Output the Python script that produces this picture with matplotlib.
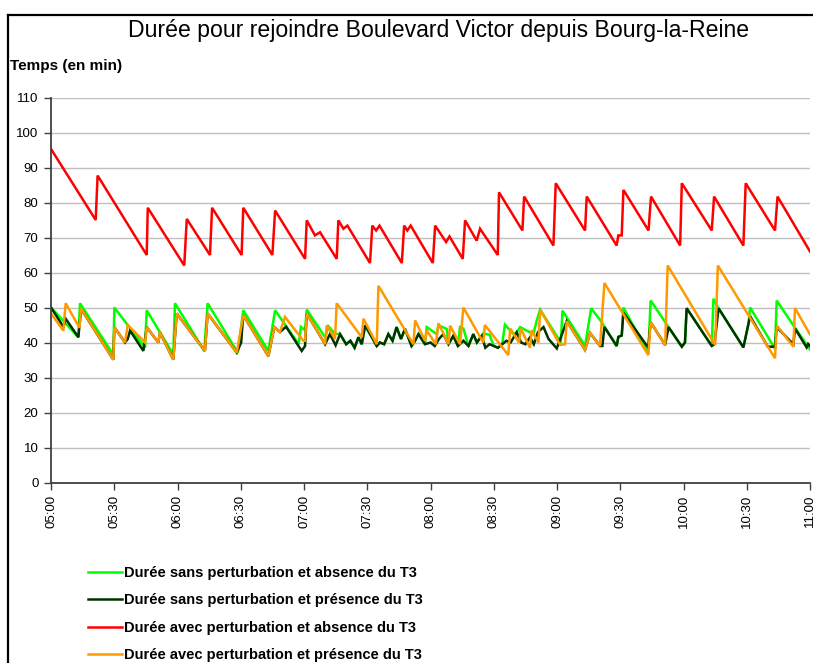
import matplotlib
matplotlib.use("Agg")
import matplotlib.pyplot as plt
from matplotlib.lines import Line2D

plt.rcParams['font.family'] = ['Liberation Sans', 'DejaVu Sans']

# Minutes after 05:00 and travel time (min) at each vertex of every series
green_t = [0, 12.97, 13.76, 29.57, 30.04, 44.6, 45.4, 58.0, 58.8, 72.7, 74.3, 88.6, 91.2, 103.1,
           106.3, 117.5, 118.5, 120.5, 121.3, 130.0, 131.6, 134.7, 137.1, 140, 142, 144, 145.8,
           147.4, 149.0, 154.5, 156, 158, 160, 162, 163.9, 166, 167.9, 171, 172.7, 174.3, 177.4,
           178.2, 183.0, 183.8, 187.7, 188.5, 190.8, 193, 194, 195.6, 198, 200.3, 202, 204.3,
           205, 208, 210, 212, 214, 215.3, 219.3, 220.9, 222.5, 228.8, 230.4, 232.0, 241.8,
           242.6, 253.3, 256.2, 261.2, 268.3, 269.1, 270.7, 271.5, 283.3, 284.4, 292.9, 299.2,
           300.7, 301.5, 313.4, 314.2, 316.6, 328.4, 330.8, 331.6, 343.4, 344.2, 352.1, 360]
green_v = [50, 41.5, 51.2, 36.5, 50, 38.5, 49.2, 36.6, 51.2, 37.6, 51.2, 37.1, 49.2, 37.6,
           49.2, 39.5, 44.5, 43.5, 49.4, 41.5, 44.6, 42.5, 42.4, 39.5, 40.5, 38.5, 41.5,
           39.5, 44.9, 39.0, 40, 39.5, 42.4, 40.5, 44.4, 41, 43.9, 39.0, 40.5, 42.4, 39.5,
           44.4, 42.4, 44.9, 43.9, 39.5, 41.9, 39, 44.4, 44, 39, 42.4, 40, 41.9,
           42.6, 42.2, 39, 38.5, 39.5, 45.1, 42.4, 42.9, 44.4, 42.4, 46.3, 49.4, 40,
           49.1, 39, 49.8, 45.8, 39, 41.6, 42, 50, 36.9, 52, 44.4, 38.8,
           40, 49.8, 39, 52.5, 49.8, 38.6, 45.3, 50, 38.2, 52, 44.9, 38]

dark_t = [0, 5.85, 6.96, 12.97, 13.76, 14.5, 29.57, 30.04, 35.1, 36.4, 37.5, 43.8, 45.4, 50.9,
          51.7, 58.0, 59.6, 73.0, 74.3, 88.1, 90.2, 90.6, 91.2, 103.1, 105.9, 108.6, 111.5,
          118.9, 120.5, 121.3, 130.0, 132.3, 135, 137.1, 140, 142, 144, 145.8, 147.4, 149.0,
          154.5, 156, 158, 160, 162, 163.9, 166, 167.9, 171, 172.7, 174.3, 177.4, 180, 182,
          184, 186.1, 188.5, 190.8, 193, 195.6, 198, 200.3, 202, 204.3, 206, 208, 210, 212,
          214, 216, 218, 220.9, 223, 225, 227.2, 229, 231, 233.6, 236, 239.9, 244.6, 253.3,
          255.7, 260.4, 261.5, 262.5, 268.3, 269.1, 270.7, 271.5, 283.3, 284.4, 291.3, 292.9,
          299.2, 300.7, 301.5, 313.4, 314.7, 316.6, 328.4, 330.8, 331.6, 340, 343.4, 344.2,
          352.1, 352.9, 358.4, 359.1, 360]
dark_v = [50, 44.5, 46.8, 41.5, 46.5, 49.4, 35.1, 44.4, 40, 41, 43.4, 37.6, 44.4, 40,
          42.9, 35.1, 48.3, 37.6, 48.3, 37.1, 40, 43.4, 47.8, 36.1, 44.4, 43, 44.5,
          37.6, 39, 48.3, 39.5, 42.4, 39.2, 42.4, 39.5, 40.5, 38.5, 41.5, 39.5, 44.9,
          39.0, 40, 39.5, 42.4, 40.5, 44.4, 41, 43.9, 39.0, 40.5, 42.4, 39.5, 40, 39,
          41, 42.4, 39.5, 41.9, 39, 40.5, 39, 42.4, 40, 41.9, 38.5, 39.5, 39, 38.5,
          39.5, 40.5, 40, 42.9, 40, 39.5, 41.5, 39.5, 43, 44.4, 41, 38.3, 46.1, 37.9,
          42.7, 39, 39, 44.4, 39, 41.6, 42, 48.5, 38.5, 45.8, 39.3, 44.4,
          38.8, 40, 49.8, 39, 39.5, 49.8, 38.6, 45.3, 47.5, 38.8, 38.8, 44.4,
          39.5, 44, 38.6, 39.6, 39]

red_t = [0, 21.2, 22.1, 45.4, 45.9, 63.2, 64.4, 75.4, 76.4, 90.4, 91.2, 105, 106.3, 120.5,
         121.3, 125.2, 127.6, 135.5, 136.3, 138.7, 140.6, 151.3, 152.4, 154.2, 155.8, 166.4,
         167.5, 169, 170.6, 181.1, 182.2, 187.4, 189, 195.3, 196.4, 201.9, 203.5, 211.9,
         212.5, 223.6, 224.4, 238.3, 239.4, 253.3, 254.1, 268.3, 269.1, 270.7, 271.5, 283.4,
         284.6, 298.4, 299.2, 313.4, 314.5, 328.4, 329.5, 343.4, 344.6, 360]
red_v = [95.3, 75, 87.7, 65, 78.5, 62, 75.3, 65, 78.5, 65, 78.5, 65, 77.7, 63.9,
         74.9, 70.6, 71.5, 63.9, 74.9, 72.5, 73.4, 62.7, 73.4, 72, 73.4, 62.7,
         73.4, 72, 73.4, 62.7, 73.4, 68.7, 70.3, 63.9, 74.9, 69.1, 72.5, 65,
         82.9, 72, 81.7, 67.7, 85.5, 72, 81.7, 67.7, 70.6, 70.6, 83.6, 72,
         81.7, 67.7, 85.5, 72, 81.7, 67.7, 85.5, 72, 81.7, 66]

orange_t = [0, 5.85, 6.96, 13.5, 14.23, 29.57, 30.04, 35.1, 36.4, 44.6, 45.4, 50.9, 51.7, 58.0,
            59.6, 73.0, 74.3, 88.1, 91.2, 103.1, 105.9, 108.6, 111.0, 119.7, 120.5, 121.3,
            130.0, 130.8, 134.7, 135.5, 147.4, 148.2, 154.5, 155.3, 171.9, 172.7, 177.4, 178.2,
            182.5, 183.8, 188.5, 189.3, 194.0, 195.6, 205.0, 205.8, 216.9, 217.8, 222.0, 222.8,
            227.2, 228, 231.2, 232.0, 241.5, 243.8, 244.6, 253.3, 255.7, 260.4, 262.5, 283.3,
            284.4, 291.3, 292.5, 315.0, 316.3, 343.4, 344.2, 352.1, 352.9, 360]
orange_v = [48.3, 43.4, 51.2, 44.2, 49.7, 35.1, 44.4, 40, 45, 40, 44.4, 40, 42.9, 35.1,
            48.3, 37.6, 48.3, 37.1, 47.8, 36.1, 44.4, 43, 47.3, 40.5, 40.5, 48.3,
            39.5, 44.9, 41, 51.2, 41.5, 46.8, 39.5, 56.2, 39.5, 46.3, 40.5, 43.5,
            39.5, 45.5, 39.5, 44.8, 39.5, 50, 40, 45, 36.4, 44, 40, 44,
            38.5, 43.5, 40, 49.4, 39.3, 39.5, 46.1, 37.9, 42.7, 39, 57, 36.4,
            45.8, 39.3, 62, 39.3, 62, 35.5, 44.9, 38.8, 49.8, 42.3]

series_labels = ["Durée sans perturbation et absence du T3",
                 "Durée sans perturbation et présence du T3",
                 "Durée avec perturbation et absence du T3",
                 "Durée avec perturbation et présence du T3"]
series_colors = ["#00ff00", "#003300", "#ff0000", "#ff9900"]

tick_minutes = list(range(0, 361, 30))
tick_labels = ["05:00", "05:30", "06:00", "06:30", "07:00", "07:30", "08:00",
               "08:30", "09:00", "09:30", "10:00", "10:30", "11:00"]
y_ticks = list(range(0, 111, 10))

fig = plt.figure(figsize=(8.13, 6.63), dpi=100, facecolor="white")
ax = fig.add_axes([51 / 813, 1 - 482.5 / 663, (810 - 51) / 813, (482.5 - 97.5) / 663])

handles = []
for (t, v), lab, col in zip([(green_t, green_v), (dark_t, dark_v), (red_t, red_v),
                             (orange_t, orange_v)], series_labels, series_colors):
    h, = ax.plot(t, v, color=col, lw=1.8, label=lab, solid_joinstyle="miter")
    handles.append(h)

ax.set_xlim(0, 360)
ax.set_ylim(0, 110)
ax.set_xticks(tick_minutes)
ax.set_xticklabels(tick_labels, rotation=90, fontsize=9.5)
ax.set_yticks(y_ticks)
ax.set_yticklabels([str(y) for y in y_ticks], fontsize=9.5)
ax.yaxis.grid(True, color="#c0c0c0", lw=1.0)
ax.set_axisbelow(True)
for s in ("top", "right"):
    ax.spines[s].set_visible(False)
for s in ("left", "bottom"):
    ax.spines[s].set_color("#404040")
    ax.spines[s].set_linewidth(1.3)
ax.tick_params(direction="out", length=5, width=1, color="#404040", pad=4)

fig.text(439 / 813, 1 - 31 / 663, "Durée pour rejoindre Boulevard Victor depuis Bourg-la-Reine",
         ha="center", va="center", fontsize=16.6)
fig.text(10 / 813, 1 - 66 / 663, "Temps (en min)", ha="left", va="center",
         fontsize=11, fontweight="bold")

# chart frame (top and left edges)
fig.add_artist(Line2D([8 / 813, 8 / 813], [0, 1 - 15 / 663], transform=fig.transFigure,
                      color="black", lw=1.6))
fig.add_artist(Line2D([8 / 813, 1], [1 - 15 / 663, 1 - 15 / 663], transform=fig.transFigure,
                      color="black", lw=1.6))

fig.legend(handles=handles, labels=series_labels, loc="upper left",
           bbox_to_anchor=(88 / 813, 1 - 566 / 663), frameon=False,
           prop={"weight": "bold", "size": 10.5}, handlelength=2.35, handletextpad=0.15,
           labelspacing=0.92, borderaxespad=0, borderpad=0)

fig.savefig("out.png", dpi=100, facecolor="white")
